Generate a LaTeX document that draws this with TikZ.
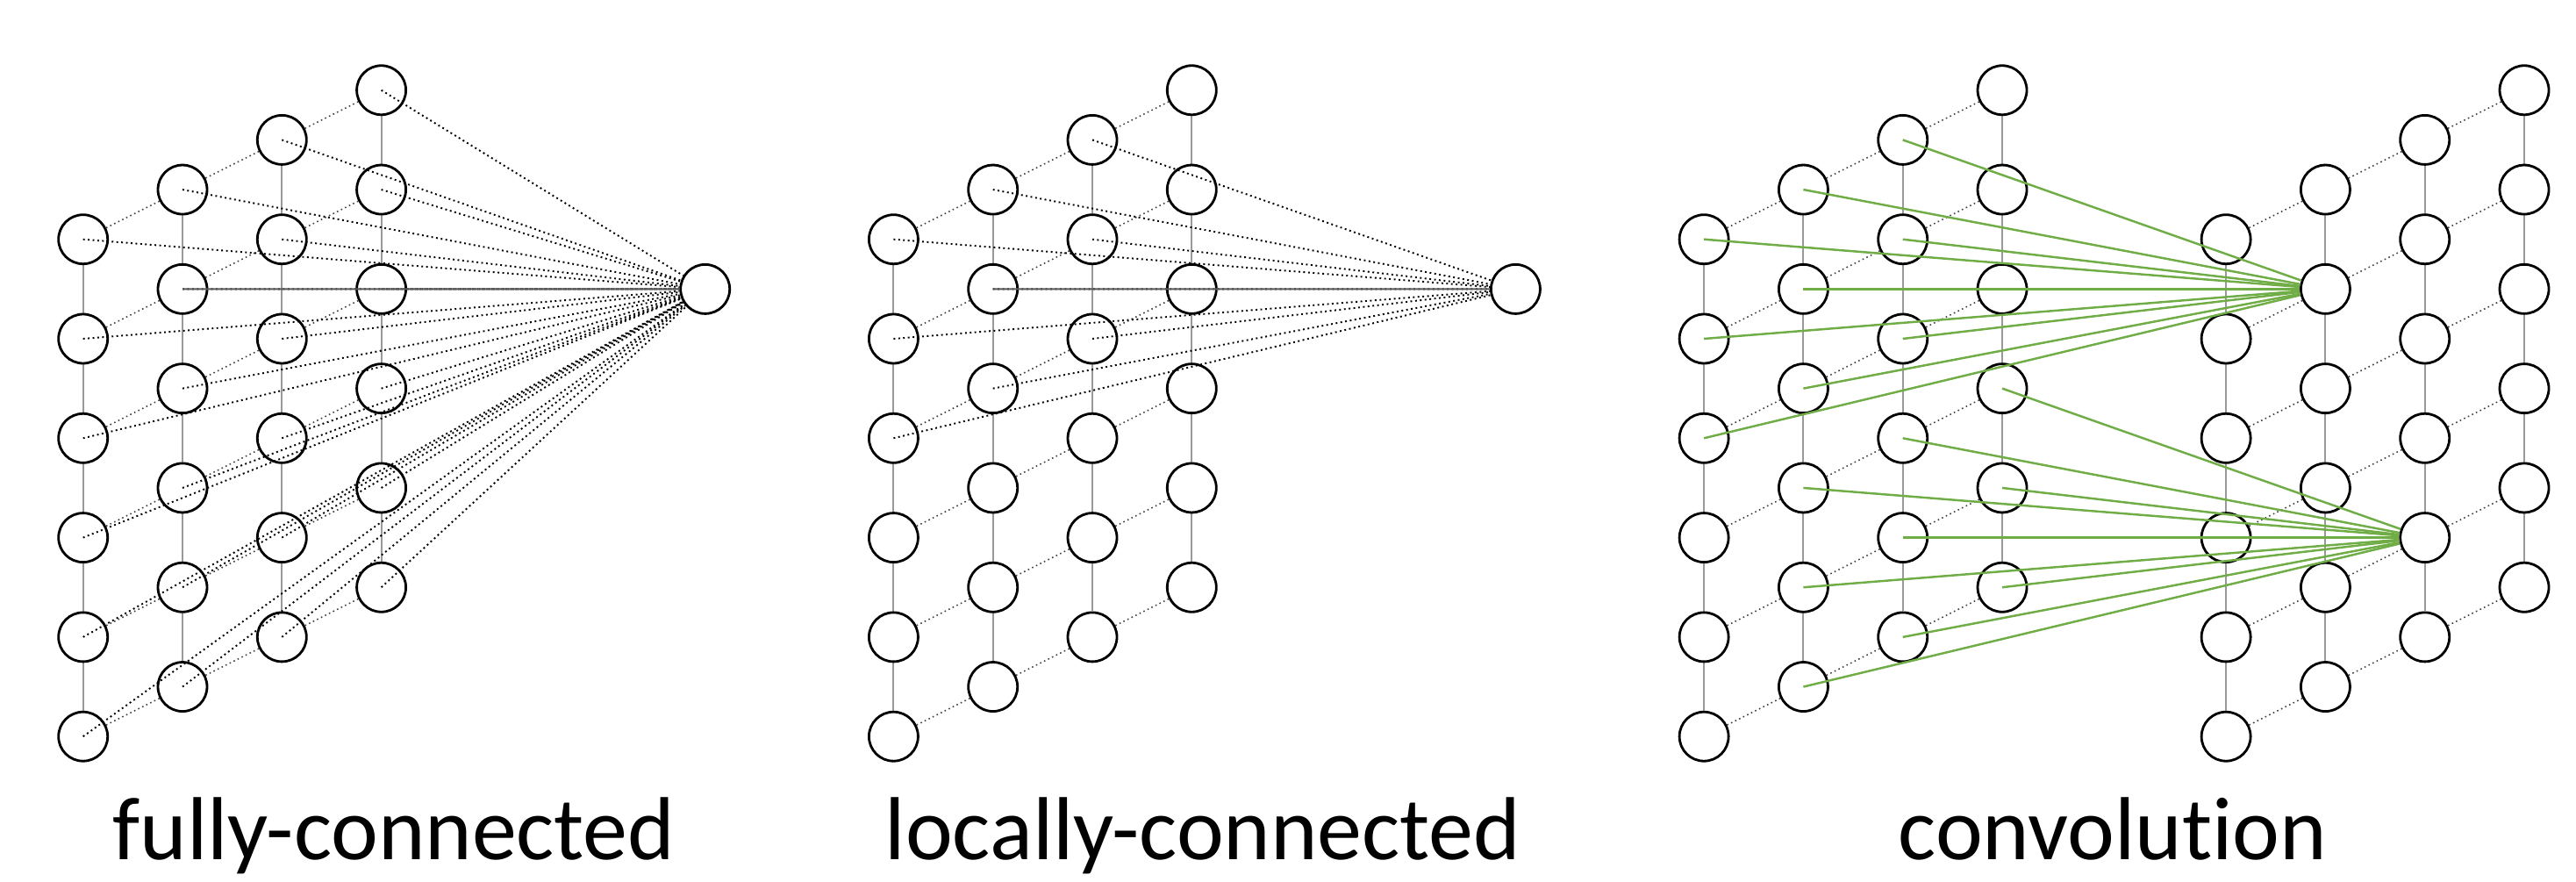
\documentclass[tikz,border=0pt]{standalone}
\usepackage{fontspec}
\setmainfont[Ligatures=NoCommon]{Carlito}
\usepackage{tikz}
\pgfdeclarelayer{background}
\pgfsetlayers{background,main}
\definecolor{convgreen}{RGB}{112,173,71}
\tikzstyle{neuron} = [draw=black, fill=white, circle, line width=0.8pt,
    minimum size=0.56cm, inner sep=0pt]
\tikzstyle{colline} = [draw=black!40, line width=0.6pt]
\tikzstyle{rowline} = [draw=black!75, densely dotted, line width=0.45pt]
\tikzstyle{fanline} = [draw=black, densely dotted, line width=0.55pt]
\tikzstyle{midline} = [draw=black!65, line width=0.6pt]
\tikzstyle{convline} = [draw=convgreen, line width=0.7pt]
\tikzstyle{paneltitle} = [font=\fontsize{29}{35}\selectfont, anchor=base, inner sep=0pt]

% one 4x6 sheet of neurons: #1 name prefix, #2 x of the first column
\newcommand{\neuronlayer}[2]{%
  \foreach \c in {1,...,4}
    \foreach \r in {1,...,6}
      \node[neuron] (#1\c\r) at ({#2+(\c-1)*1.133}, {7.313+(\c-1)*0.5665-(\r-1)*1.133}) {};
  \begin{pgfonlayer}{background}
    \foreach \c in {1,...,4}
      \draw[colline] (#1\c1) -- (#1\c6);
    \foreach \c [count=\n from 2] in {1,2,3}
      \foreach \r in {1,...,6}
        \draw[rowline] (#1\c\r) -- (#1\n\r);
  \end{pgfonlayer}
}

\begin{document}
\begin{tikzpicture}
    \useasboundingbox (0,0) rectangle (29.36,10.04);

    % fully-connected
    \neuronlayer{f}{0.947}
    \node[neuron] (fout) at (8.037,6.746) {};
    \foreach \c in {1,...,4}
        \foreach \r in {1,...,6}
            \draw[fanline] (f\c\r.center) -- (fout);
    \draw[midline] (f22.center) -- (fout);
    \node[paneltitle] (ftitle) at (4.49,0.25) {fully-connected};

    % locally-connected
    \neuronlayer{l}{10.184}
    \node[neuron] (lout) at (17.274,6.746) {};
    \foreach \c in {1,2,3}
        \foreach \r in {1,2,3}
            \draw[fanline] (l\c\r.center) -- (lout);
    \draw[midline] (l22.center) -- (lout);
    \node[paneltitle] (ltitle) at (13.71,0.25) {locally-connected};

    % convolution
    \neuronlayer{i}{19.421}
    \neuronlayer{o}{25.371}
    \foreach \c in {1,2,3}
        \foreach \r in {1,2,3}
            \draw[convline] (i\c\r.center) -- (o22);
    \foreach \c in {2,3,4}
        \foreach \r in {4,5,6}
            \draw[convline] (i\c\r.center) -- (o35);
    \node[paneltitle] (ctitle) at (24.08,0.25) {convolution};
\end{tikzpicture}
\end{document}
